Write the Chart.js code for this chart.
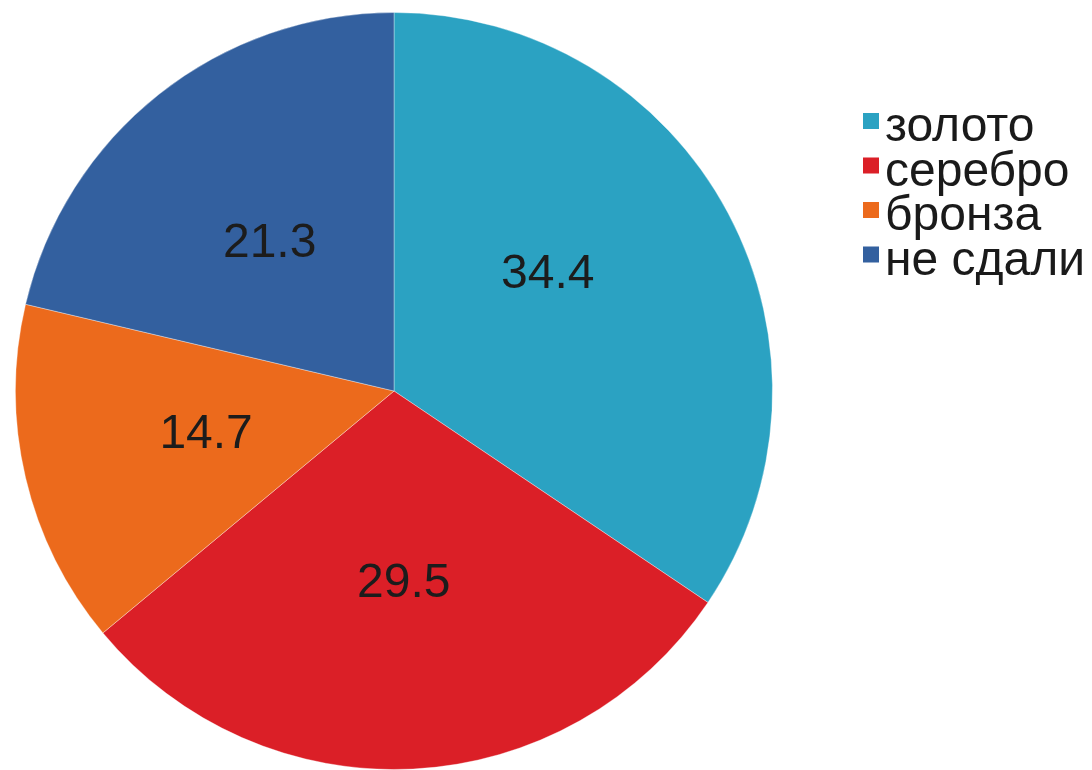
<!DOCTYPE html>
<html>
<head>
<meta charset="utf-8">
<script src="https://cdn.jsdelivr.net/npm/chart.js@4"></script>
<style>
  html, body { margin: 0; padding: 0; background: #fff; }
  #wrap { width: 1092px; height: 770px; position: relative; }
</style>
</head>
<body>
<div id="wrap"><canvas id="medalChart" width="1092" height="770"></canvas></div>
<script>
const categories = ["золото", "серебро", "бронза", "не сдали"];
const percents = [34.4, 29.5, 14.7, 21.3];
const sliceColors = ["#2ba2c2", "#db1f27", "#ec6a1c", "#33609f"];

// numbers inside the slices (small angle nudge for the first one, like the original)
const sliceLabels = {
    id: "sliceLabels",
    afterDatasetsDraw(chart, args, opts) {
        const ctx = chart.ctx;
        const ds = chart.data.datasets[0];
        const nudge = opts.nudge || [];
        ctx.save();
        ctx.font = "48px 'Liberation Sans', Arial, sans-serif";
        ctx.fillStyle = "#1c1c1c";
        ctx.textAlign = "center";
        ctx.textBaseline = "middle";
        chart.getDatasetMeta(0).data.forEach((arc, i) => {
            const mid = (arc.startAngle + arc.endAngle) / 2 + (nudge[i] || 0);
            const r = arc.outerRadius * 0.51;
            ctx.fillText(ds.data[i].toFixed(1), arc.x + Math.cos(mid) * r, arc.y + Math.sin(mid) * r);
        });
        ctx.restore();
    }
};

// legend on the right, squares + text
const sideLegend = {
    id: "sideLegend",
    afterDraw(chart) {
        const ctx = chart.ctx;
        const ds = chart.data.datasets[0];
        const x0 = 863, y0 = 127, step = 44.5;
        ctx.save();
        ctx.font = "48px 'Liberation Sans', Arial, sans-serif";
        ctx.textAlign = "left";
        ctx.textBaseline = "middle";
        chart.data.labels.forEach((lab, i) => {
            const y = y0 + i * step;
            ctx.fillStyle = ds.backgroundColor[i];
            ctx.fillRect(x0, y - 14, 16, 16);
            ctx.fillStyle = "#1a1a1a";
            ctx.fillText(lab, x0 + 22, y + 1);
        });
        ctx.restore();
    }
};

new Chart(document.getElementById("medalChart").getContext("2d"), {
    type: "pie",
    data: {
        labels: categories,
        datasets: [{
            data: percents,
            backgroundColor: sliceColors,
            borderColor: "rgba(255,255,255,0.35)",
            borderWidth: 1
        }]
    },
    options: {
        responsive: false,
        animation: false,
        layout: { padding: { left: 14, right: 318, top: 12, bottom: 0 } },
        plugins: {
            legend: { display: false },
            tooltip: { enabled: false },
            sliceLabels: { nudge: [-0.16, 0, 0, -0.03] }
        }
    },
    plugins: [sliceLabels, sideLegend]
});
</script>
</body>
</html>
